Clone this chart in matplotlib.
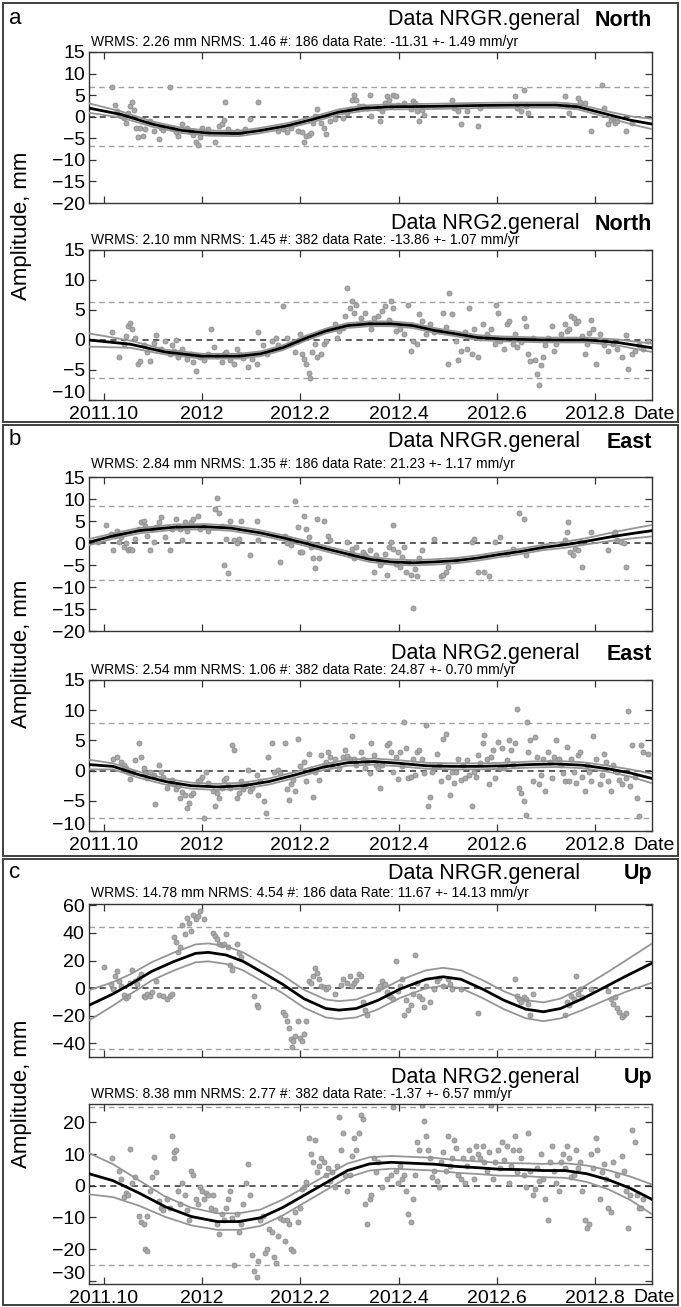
import matplotlib
matplotlib.use('Agg')
import matplotlib.pyplot as plt
import matplotlib.transforms as mtransforms
from matplotlib.patches import Rectangle

W, H = 681, 1307

# x axis
x_ticks = [2011.8, 2012.0, 2012.2, 2012.4, 2012.6, 2012.8]
x_tick_labels = ['2011.10', '2012', '2012.2', '2012.4', '2012.6', '2012.8']
x_range = (2011.770, 2012.916)

# ---- a: North ----
a1_dates = [2011.817, 2011.823, 2011.827, 2011.832, 2011.836, 2011.841, 2011.845, 2011.850, 2011.854, 2011.857,
            2011.861, 2011.865, 2011.870, 2011.874, 2011.879, 2011.885, 2011.894, 2011.903, 2011.912, 2011.916,
            2011.921, 2011.934, 2011.938, 2011.947, 2011.951, 2011.960, 2011.969, 2011.978, 2011.982, 2011.987,
            2011.991, 2011.996, 2012.000, 2012.013, 2012.027, 2012.035, 2012.040, 2012.044, 2012.047, 2012.053,
            2012.062, 2012.071, 2012.080, 2012.088, 2012.097, 2012.115, 2012.155, 2012.164, 2012.173, 2012.181,
            2012.195, 2012.203, 2012.208, 2012.212, 2012.217, 2012.221, 2012.226, 2012.230, 2012.235, 2012.243,
            2012.248, 2012.252, 2012.261, 2012.270, 2012.288, 2012.296, 2012.301, 2012.305, 2012.310, 2012.314,
            2012.319, 2012.327, 2012.336, 2012.341, 2012.345, 2012.358, 2012.363, 2012.367, 2012.372, 2012.376,
            2012.381, 2012.385, 2012.389, 2012.394, 2012.398, 2012.412, 2012.425, 2012.429, 2012.434, 2012.438,
            2012.442, 2012.447, 2012.451, 2012.508, 2012.513, 2012.522, 2012.527, 2012.540, 2012.562, 2012.566,
            2012.637, 2012.641, 2012.650, 2012.655, 2012.659, 2012.664, 2012.739, 2012.743, 2012.748, 2012.757,
            2012.765, 2012.770, 2012.779, 2012.792, 2012.814, 2012.818, 2012.827, 2012.832, 2012.836, 2012.841,
            2012.845, 2012.863, 2012.876]
a1_mm = [6.9, 2.8, 1.3, 0.5, 0.2, -0.2, -1.4, 0.9, 2.4, 3.3,
         1.6, -2.6, -4.7, -2.7, -4.4, -2.9, -1.0, -3.2, -5.1, -2.5,
         -3.0, 6.9, -2.5, -3.6, -4.4, -1.7, -2.5, -3.3, -4.2, -5.9,
         -6.6, -4.7, -2.5, -2.9, -5.9, -2.1, -1.7, -0.8, 3.3, -2.9,
         -3.6, -3.3, -3.5, -2.9, -0.6, 3.3, -3.2, -2.9, -3.5, -2.5,
         -3.3, -3.6, -5.9, -4.4, -4.2, -3.8, -1.4, 0.2, 1.7, -1.4,
         -2.5, -4.0, -1.0, -0.6, -0.2, 0.9, 1.7, 3.9, 5.0, 3.9,
         2.4, 2.4, 2.0, 5.0, 0.2, 2.0, -1.0, 1.3, 3.2, 4.7,
         3.9, 2.4, 5.0, 4.7, 2.8, 3.2, 1.7, 3.6, 3.2, 1.3,
         -1.0, 1.6, 0.5, 3.9, 2.0, 1.3, -1.7, 1.3, -2.1, 2.0,
         4.7, 2.0, 1.3, 6.2, 2.4, 0.9, 4.7, 2.8, 0.9, 2.4,
         4.3, 3.5, 3.2, -3.2, 7.3, 2.0, -1.7, -0.8, -0.2, -1.4,
         -1.0, -3.3, -1.4]
a1_fit_dates = [2011.770, 2011.836, 2011.898, 2011.960, 2012.013, 2012.075, 2012.119, 2012.173, 2012.226, 2012.279,
                2012.332, 2012.385, 2012.473, 2012.562, 2012.650, 2012.721, 2012.765, 2012.827, 2012.872, 2012.916]
a1_fit = [2.0, 0.5, -1.7, -3.2, -3.8, -3.9, -3.2, -2.1, -0.6, 1.1, 2.0, 2.3, 2.4, 2.6, 2.7, 2.7, 2.3, 0.5, -0.8, -1.7]
a1_fit_hi = [3.1, 1.2, -1.1, -2.6, -3.2, -3.3, -2.6, -1.5, 0.0, 1.7, 2.6, 2.9, 3.0, 3.2, 3.3, 3.3, 2.9, 1.2, 0.1, -0.5]
a1_fit_lo = [0.9, -0.2, -2.3, -3.8, -4.4, -4.5, -3.8, -2.7, -1.2, 0.5, 1.4, 1.7, 1.8, 2.0, 2.1, 2.1, 1.7, -0.2, -1.7, -2.9]

a2_dates = [2011.817, 2011.832, 2011.841, 2011.845, 2011.850, 2011.854, 2011.858, 2011.863, 2011.870, 2011.873,
            2011.881, 2011.889, 2011.894, 2011.903, 2011.907, 2011.916, 2011.925, 2011.934, 2011.938, 2011.943,
            2011.947, 2011.951, 2011.956, 2011.960, 2011.969, 2011.978, 2011.982, 2011.987, 2011.991, 2011.996,
            2012.004, 2012.013, 2012.019, 2012.024, 2012.031, 2012.040, 2012.044, 2012.049, 2012.058, 2012.066,
            2012.071, 2012.075, 2012.084, 2012.093, 2012.102, 2012.111, 2012.115, 2012.124, 2012.133, 2012.142,
            2012.150, 2012.155, 2012.165, 2012.173, 2012.181, 2012.190, 2012.195, 2012.199, 2012.204, 2012.208,
            2012.212, 2012.217, 2012.219, 2012.224, 2012.230, 2012.235, 2012.243, 2012.248, 2012.252, 2012.261,
            2012.270, 2012.274, 2012.279, 2012.288, 2012.292, 2012.296, 2012.301, 2012.305, 2012.310, 2012.314,
            2012.323, 2012.332, 2012.341, 2012.345, 2012.350, 2012.358, 2012.367, 2012.372, 2012.381, 2012.385,
            2012.389, 2012.394, 2012.403, 2012.412, 2012.420, 2012.425, 2012.429, 2012.438, 2012.442, 2012.447,
            2012.456, 2012.465, 2012.473, 2012.482, 2012.491, 2012.496, 2012.500, 2012.503, 2012.509, 2012.518,
            2012.522, 2012.527, 2012.535, 2012.540, 2012.544, 2012.549, 2012.553, 2012.562, 2012.566, 2012.571,
            2012.580, 2012.589, 2012.597, 2012.599, 2012.602, 2012.606, 2012.615, 2012.620, 2012.624, 2012.633,
            2012.637, 2012.642, 2012.650, 2012.655, 2012.659, 2012.664, 2012.668, 2012.673, 2012.677, 2012.681,
            2012.686, 2012.690, 2012.695, 2012.699, 2012.704, 2012.712, 2012.717, 2012.721, 2012.730, 2012.739,
            2012.743, 2012.748, 2012.752, 2012.757, 2012.761, 2012.766, 2012.774, 2012.779, 2012.783, 2012.788,
            2012.792, 2012.796, 2012.801, 2012.810, 2012.819, 2012.827, 2012.836, 2012.845, 2012.854, 2012.863,
            2012.867, 2012.876, 2012.881, 2012.889, 2012.898, 2012.907]
a2_mm = [1.4, -2.9, -0.7, 0.7, 2.4, 2.9, 1.8, 0.4, -4.0, -3.5,
         -0.9, -2.0, -3.5, -0.5, 0.9, -1.5, -0.1, -2.3, -0.9, -1.8,
         0.0, -2.9, -2.0, -1.5, -3.1, -2.3, -3.7, -5.2, -2.6, -2.9,
         -3.3, -2.3, 1.9, -1.2, -2.7, -3.7, -2.3, -2.0, -3.4, -4.0,
         -1.5, -2.3, -3.0, -4.5, -3.1, -4.0, 1.3, -0.9, -2.3, -0.1,
         0.4, -0.9, 5.7, 0.4, -0.7, -2.0, -0.1, 1.0, -2.3, -3.1,
         -4.0, -5.5, -6.4, -2.0, -0.7, -2.9, -2.3, -0.7, -0.1, 1.8,
         2.6, 0.4, 1.5, 2.0, 4.0, 8.7, 5.4, 6.5, 4.5, 5.8,
         3.7, 4.5, 2.9, 1.8, 3.7, 4.0, 4.8, 5.7, 3.4, 6.5,
         5.4, 1.5, 1.8, 1.0, 5.9, -1.8, -0.1, -0.7, 4.3, 3.2,
         1.0, 2.6, 1.3, 1.5, 4.5, 2.1, -4.0, 7.9, 4.3, -0.1,
         -3.4, -1.8, 1.3, -1.5, 5.4, -2.3, 1.8, -2.9, 0.4, 2.6,
         1.0, 1.8, -0.7, 5.9, 4.5, -0.1, -1.5, 2.6, 3.2, -0.7,
         1.0, -1.2, -0.4, 3.7, 2.4, -2.3, -3.5, 0.4, -3.4, -5.6,
         -7.5, -4.2, -2.9, -0.9, 0.4, 2.4, -1.8, -0.7, 1.0, 2.6,
         1.5, 1.8, 4.0, 3.7, 2.9, 3.2, 0.7, -2.3, -0.7, 1.2,
         3.4, 1.8, -4.0, 1.0, -0.9, -1.8, -0.7, -1.5, -2.9, 0.9,
         -4.8, -2.3, -1.8, -0.9, -1.5, -0.1]
a2_fit_dates = [2011.770, 2011.854, 2011.925, 2012.000, 2012.075, 2012.119, 2012.164, 2012.208, 2012.252, 2012.296,
                2012.341, 2012.385, 2012.429, 2012.473, 2012.518, 2012.562, 2012.606, 2012.695, 2012.783, 2012.845,
                2012.916]
a2_fit = [0.0, -0.7, -2.0, -2.7, -2.7, -2.3, -1.3, 0.2, 1.5, 2.4, 2.7, 2.7, 2.4, 1.6, 1.0, 0.4, 0.2, 0.0, 0.0, -0.4, -1.3]
a2_fit_hi = [1.1, -0.1, -1.6, -2.3, -2.3, -1.9, -0.9, 0.6, 1.9, 2.8, 3.1, 3.1, 2.8, 2.0, 1.4, 0.8, 0.6, 0.4, 0.4, 0.1, -0.6]
a2_fit_lo = [-1.1, -1.3, -2.4, -3.1, -3.1, -2.7, -1.7, -0.2, 1.1, 2.0, 2.3, 2.3, 2.0, 1.2, 0.6, 0.0, -0.2, -0.4, -0.4, -0.9, -2.0]

# ---- b: East ----
b1_dates = [2011.788, 2011.805, 2011.814, 2011.819, 2011.823, 2011.827, 2011.832, 2011.836, 2011.841, 2011.845,
            2011.850, 2011.854, 2011.858, 2011.863, 2011.872, 2011.876, 2011.881, 2011.885, 2011.889, 2011.894,
            2011.898, 2011.903, 2011.907, 2011.912, 2011.916, 2011.925, 2011.934, 2011.938, 2011.947, 2011.951,
            2011.956, 2011.960, 2011.965, 2011.969, 2011.978, 2011.982, 2011.991, 2011.996, 2012.004, 2012.013,
            2012.027, 2012.031, 2012.035, 2012.040, 2012.044, 2012.049, 2012.053, 2012.058, 2012.066, 2012.071,
            2012.075, 2012.080, 2012.097, 2012.111, 2012.115, 2012.159, 2012.168, 2012.173, 2012.177, 2012.181,
            2012.190, 2012.195, 2012.199, 2012.204, 2012.208, 2012.212, 2012.217, 2012.221, 2012.226, 2012.230,
            2012.235, 2012.239, 2012.248, 2012.257, 2012.261, 2012.296, 2012.301, 2012.305, 2012.310, 2012.314,
            2012.327, 2012.332, 2012.336, 2012.341, 2012.350, 2012.354, 2012.358, 2012.363, 2012.367, 2012.372,
            2012.376, 2012.381, 2012.385, 2012.388, 2012.389, 2012.394, 2012.398, 2012.403, 2012.407, 2012.412,
            2012.416, 2012.420, 2012.425, 2012.429, 2012.434, 2012.438, 2012.442, 2012.447, 2012.473, 2012.487,
            2012.491, 2012.496, 2012.500, 2012.518, 2012.549, 2012.553, 2012.562, 2012.575, 2012.584, 2012.597,
            2012.606, 2012.620, 2012.633, 2012.646, 2012.655, 2012.659, 2012.739, 2012.743, 2012.746, 2012.750,
            2012.755, 2012.759, 2012.766, 2012.770, 2012.774, 2012.792, 2012.827, 2012.838, 2012.841, 2012.845,
            2012.852, 2012.858, 2012.863]
b1_mm = [0.2, 4.0, 2.1, -1.6, 1.7, 2.8, 0.2, 1.3, -0.9, -0.1,
         -1.6, -1.3, -1.6, 1.0, 3.2, 4.7, 5.1, 3.9, 1.7, -1.6,
         3.2, 0.2, 3.6, 4.7, 5.8, 1.3, -1.6, 3.2, 5.4, 3.9,
         3.2, 0.6, 4.7, 2.8, 4.7, 5.4, 6.2, 3.2, 3.9, 2.8,
         7.7, 10.3, 6.9, 3.9, -5.0, 1.0, -6.9, 5.1, 0.6, -0.1,
         1.0, 5.1, -2.8, 5.1, 0.6, -4.3, 1.7, -0.1, 1.0, -0.5,
         9.6, 3.6, -2.0, -2.0, 6.2, 3.2, 1.3, -0.9, -3.5, -5.7,
         5.4, -3.5, 5.1, 1.7, 0.6, 0.2, -2.8, -1.3, -3.5, -0.9,
         -2.0, -2.8, -3.1, -1.6, -6.5, -2.8, -3.9, -5.0, -4.3, -2.4,
         -7.2, -0.9, 0.2, 4.0, -1.3, -4.7, -2.0, -5.4, -3.1, -0.9,
         -6.5, -4.3, -7.2, -14.7, -5.8, -7.6, -3.5, -1.6, 1.0, -7.6,
         -7.2, -6.5, -5.4, -3.9, 0.2, 1.0, -6.5, -6.5, -7.6, 0.2,
         1.3, -2.4, -1.3, 6.9, 5.4, -2.8, 0.6, 2.5, 4.7, -2.0,
         -2.8, -1.3, -1.6, 0.2, -5.4, 2.5, -1.6, 2.1, 2.5, 0.6,
         0.2, -0.1, -5.4]
b1_fit_dates = [2011.770, 2011.819, 2011.872, 2011.943, 2012.004, 2012.058, 2012.119, 2012.164, 2012.208, 2012.252,
                2012.296, 2012.341, 2012.385, 2012.429, 2012.473, 2012.518, 2012.562, 2012.606, 2012.650, 2012.695,
                2012.739, 2012.783, 2012.827, 2012.872, 2012.916]
b1_fit = [0.2, 1.6, 2.8, 3.6, 3.7, 3.4, 2.3, 1.2, 0.0, -1.3, -2.5, -3.7, -4.3, -4.5, -4.3, -4.0, -3.4, -2.6, -1.9, -1.0,
          -0.4, 0.4, 1.3, 2.1, 2.8]
b1_fit_hi = [0.9, 2.2, 3.4, 4.2, 4.3, 4.0, 2.9, 1.8, 0.6, -0.7, -1.9, -3.1, -3.7, -3.9, -3.7, -3.4, -2.8, -2.0, -1.3,
             -0.4, 0.3, 1.1, 2.2, 3.2, 4.1]
b1_fit_lo = [-0.5, 1.0, 2.2, 3.0, 3.1, 2.8, 1.7, 0.6, -0.6, -1.9, -3.1, -4.3, -4.9, -5.1, -4.9, -4.6, -4.0, -3.2, -2.5,
             -1.6, -1.1, -0.3, 0.4, 1.0, 1.5]

b2_dates = [2011.819, 2011.827, 2011.836, 2011.841, 2011.845, 2011.850, 2011.854, 2011.858, 2011.863, 2011.872,
            2011.876, 2011.881, 2011.885, 2011.889, 2011.894, 2011.903, 2011.905, 2011.912, 2011.916, 2011.920,
            2011.929, 2011.934, 2011.938, 2011.943, 2011.947, 2011.951, 2011.956, 2011.960, 2011.965, 2011.969,
            2011.973, 2011.978, 2011.982, 2011.991, 2011.996, 2012.000, 2012.004, 2012.009, 2012.013, 2012.022,
            2012.027, 2012.031, 2012.035, 2012.040, 2012.044, 2012.049, 2012.053, 2012.058, 2012.062, 2012.065,
            2012.071, 2012.075, 2012.080, 2012.084, 2012.089, 2012.093, 2012.097, 2012.102, 2012.111, 2012.115,
            2012.119, 2012.127, 2012.130, 2012.135, 2012.142, 2012.146, 2012.155, 2012.159, 2012.168, 2012.173,
            2012.177, 2012.181, 2012.186, 2012.190, 2012.195, 2012.199, 2012.208, 2012.212, 2012.217, 2012.221,
            2012.226, 2012.230, 2012.239, 2012.243, 2012.248, 2012.252, 2012.257, 2012.261, 2012.265, 2012.270,
            2012.279, 2012.288, 2012.292, 2012.296, 2012.301, 2012.305, 2012.310, 2012.314, 2012.323, 2012.327,
            2012.332, 2012.336, 2012.341, 2012.345, 2012.350, 2012.354, 2012.358, 2012.363, 2012.367, 2012.376,
            2012.381, 2012.385, 2012.389, 2012.394, 2012.398, 2012.403, 2012.407, 2012.412, 2012.416, 2012.420,
            2012.425, 2012.429, 2012.434, 2012.438, 2012.442, 2012.447, 2012.451, 2012.456, 2012.460, 2012.465,
            2012.469, 2012.473, 2012.478, 2012.482, 2012.487, 2012.491, 2012.496, 2012.500, 2012.504, 2012.509,
            2012.513, 2012.518, 2012.522, 2012.527, 2012.531, 2012.535, 2012.540, 2012.544, 2012.549, 2012.553,
            2012.558, 2012.562, 2012.566, 2012.571, 2012.575, 2012.580, 2012.584, 2012.589, 2012.593, 2012.597,
            2012.602, 2012.606, 2012.611, 2012.615, 2012.620, 2012.624, 2012.628, 2012.633, 2012.637, 2012.642,
            2012.646, 2012.650, 2012.655, 2012.659, 2012.661, 2012.664, 2012.668, 2012.673, 2012.677, 2012.681,
            2012.686, 2012.690, 2012.695, 2012.699, 2012.704, 2012.708, 2012.712, 2012.717, 2012.721, 2012.726,
            2012.730, 2012.734, 2012.739, 2012.743, 2012.748, 2012.752, 2012.757, 2012.761, 2012.766, 2012.770,
            2012.774, 2012.779, 2012.783, 2012.788, 2012.792, 2012.796, 2012.801, 2012.810, 2012.814, 2012.819,
            2012.823, 2012.827, 2012.832, 2012.836, 2012.845, 2012.849, 2012.854, 2012.863, 2012.867, 2012.872,
            2012.876, 2012.881, 2012.885, 2012.889, 2012.894, 2012.898, 2012.907]
b2_mm = [2.0, 2.3, 1.5, 0.9, 0.4, -0.2, -1.4, -0.4, 1.7, 4.5,
         2.3, 0.4, -0.4, -1.3, -0.2, -0.7, -5.6, 0.9, -0.2, -1.0,
         -2.9, -2.1, -1.5, -2.2, -3.1, -2.6, -4.5, -3.5, -4.0, -6.2,
         -5.4, -4.0, -3.7, -1.8, -1.5, -1.0, -7.8, -0.2, -2.1, -3.4,
         -5.9, -3.7, -4.5, -2.9, -1.5, -1.3, -2.4, -2.9, 4.3, 3.4,
         -4.5, -3.7, -1.8, -3.1, -2.2, 0.1, -3.4, -2.9, -0.7, -4.0,
         -1.8, -5.0, -7.0, 2.3, 4.5, -0.2, 0.1, -0.4, 4.5, -3.1,
         -4.8, -2.3, -1.5, -3.4, 5.2, 0.7, 1.5, -1.8, 2.8, 0.1,
         -4.3, -0.2, -1.5, 2.6, 0.9, 1.5, 3.1, 2.3, 0.9, 2.0,
         0.4, 2.3, 3.4, 2.4, 2.0, 5.8, 2.0, 0.9, 3.1, 2.0,
         0.4, 1.5, -0.4, 4.5, 2.6, 0.9, 0.4, -2.9, 0.9, 4.2,
         4.5, 3.1, -0.2, 2.3, -1.4, 3.1, 0.7, 8.0, 3.7, -1.3,
         -1.0, 2.0, -0.7, 3.1, 3.4, 2.0, -0.4, 7.5, -5.9, -4.3,
         -0.2, 0.4, 2.8, 0.9, -1.8, 5.3, 6.1, -1.0, -4.0, -0.2,
         -2.1, -0.2, 2.0, -1.5, 0.9, -1.3, 1.7, -0.7, -5.9, -0.2,
         -1.0, 2.6, 1.2, 4.5, 5.9, 2.0, -2.3, 2.3, 3.4, -1.3,
         4.8, 0.4, 3.7, 0.4, 1.7, 5.0, 3.4, 0.9, 4.5, 10.2,
         -2.9, -3.7, -5.1, -7.3, 8.0, 3.1, 5.0, -1.8, 5.6, 2.3,
         -2.3, -0.7, 2.0, -3.4, 3.1, 1.5, -1.3, 2.3, 5.0, 2.0,
         0.9, -0.4, -1.8, 3.9, -1.8, 2.0, -0.2, -2.1, 2.6, 3.1,
         -1.0, -3.4, 0.9, -0.2, -1.8, 5.8, 2.0, -2.3, -0.7, 2.8,
         1.5, -1.8, -3.4, 0.9, -0.2, -1.5, -2.3, -1.3, 9.9, -2.6,
         4.2, -1.0, -4.5, -7.5, 4.2, 3.1, 2.8]
b2_fit_dates = [2011.770, 2011.819, 2011.872, 2011.925, 2011.978, 2012.031, 2012.084, 2012.137, 2012.190, 2012.243,
                2012.296, 2012.350, 2012.403, 2012.456, 2012.509, 2012.562, 2012.615, 2012.668, 2012.721, 2012.774,
                2012.827, 2012.872, 2012.916]
b2_fit = [1.0, 0.7, -0.7, -1.8, -2.5, -2.7, -2.5, -1.8, -0.7, 0.5, 1.3, 1.5, 1.2, 0.8, 0.7, 0.7, 0.8, 1.0, 1.1, 0.9,
          0.3, -0.4, -1.3]
b2_fit_hi = [1.8, 1.2, -0.2, -1.3, -2.0, -2.2, -2.0, -1.3, -0.2, 1.0, 1.8, 2.0, 1.7, 1.3, 1.2, 1.2, 1.3, 1.5, 1.6, 1.4,
             0.8, 0.2, -0.5]
b2_fit_lo = [0.2, 0.2, -1.2, -2.3, -3.0, -3.2, -3.0, -2.3, -1.2, 0.0, 0.8, 1.0, 0.7, 0.3, 0.2, 0.2, 0.3, 0.5, 0.6, 0.4,
             -0.2, -1.0, -2.1]

# ---- c: Up ----
c1_dates = [2011.801, 2011.814, 2011.819, 2011.823, 2011.826, 2011.832, 2011.836, 2011.841, 2011.845, 2011.850,
            2011.854, 2011.858, 2011.863, 2011.867, 2011.872, 2011.876, 2011.881, 2011.885, 2011.889, 2011.894,
            2011.898, 2011.907, 2011.912, 2011.920, 2011.929, 2011.934, 2011.938, 2011.943, 2011.947, 2011.951,
            2011.956, 2011.960, 2011.965, 2011.969, 2011.973, 2011.978, 2011.982, 2011.987, 2011.991, 2011.996,
            2012.004, 2012.022, 2012.027, 2012.031, 2012.035, 2012.040, 2012.044, 2012.049, 2012.053, 2012.058,
            2012.062, 2012.071, 2012.075, 2012.080, 2012.106, 2012.111, 2012.115, 2012.164, 2012.168, 2012.173,
            2012.177, 2012.181, 2012.183, 2012.186, 2012.190, 2012.195, 2012.199, 2012.204, 2012.208, 2012.212,
            2012.217, 2012.221, 2012.226, 2012.230, 2012.235, 2012.239, 2012.243, 2012.248, 2012.252, 2012.257,
            2012.270, 2012.283, 2012.288, 2012.296, 2012.301, 2012.305, 2012.310, 2012.314, 2012.319, 2012.323,
            2012.327, 2012.332, 2012.336, 2012.358, 2012.363, 2012.367, 2012.372, 2012.376, 2012.381, 2012.385,
            2012.389, 2012.394, 2012.398, 2012.403, 2012.407, 2012.412, 2012.416, 2012.420, 2012.425, 2012.429,
            2012.434, 2012.438, 2012.442, 2012.447, 2012.451, 2012.456, 2012.465, 2012.473, 2012.478, 2012.482,
            2012.491, 2012.500, 2012.504, 2012.509, 2012.527, 2012.562, 2012.637, 2012.642, 2012.646, 2012.650,
            2012.655, 2012.659, 2012.664, 2012.668, 2012.673, 2012.739, 2012.743, 2012.748, 2012.752, 2012.757,
            2012.761, 2012.766, 2012.770, 2012.774, 2012.792, 2012.827, 2012.832, 2012.836, 2012.841, 2012.845,
            2012.849, 2012.854, 2012.858, 2012.863]
c1_mm = [15.3, 2.8, -0.7, 8.7, 12.2, 5.2, 1.6, -4.9, -7.3, -5.4,
         4.0, 13.4, 5.2, 2.8, 7.5, 9.9, -5.4, -6.6, -4.2, -5.4,
         -3.1, 5.2, -4.9, -5.4, -7.8, -5.4, -4.2, 37.0, 33.4, 26.4,
         29.9, 45.9, 39.3, 51.1, 47.5, 41.6, 52.9, 49.9, 52.2, 55.8,
         49.9, 40.2, 38.1, 35.8, 32.2, 31.1, 32.2, 39.3, 29.9, 16.9,
         13.4, 32.2, 25.2, 22.8, -5.9, -12.5, -13.6, -17.2, -19.5, -24.2,
         -28.9, -37.2, -43.1, -38.4, -34.8, -24.2, -36.0, -38.4, -33.6, -24.2,
         5.2, 4.0, 8.7, 14.6, 11.1, 6.4, 1.6, 0.5, -0.7, 0.5,
         -4.2, 2.1, 6.4, 4.0, 8.7, 1.6, 4.0, 5.9, 9.9, 8.7,
         -10.1, -15.9, -19.5, -0.7, 1.6, 5.2, 2.8, -3.1, -5.4, -6.6,
         -7.8, 19.3, -1.9, 1.6, 6.4, -19.5, -8.9, -15.9, -12.5, -4.2,
         24.0, 4.0, -5.4, -7.8, -13.6, 1.6, -10.1, -0.7, 5.2, 7.5,
         1.6, 6.4, 2.8, -0.7, -0.7, -18.4, 6.4, -5.9, -7.8, -10.1,
         -6.6, -7.8, -11.3, -19.5, -4.2, -19.5, -10.1, -12.5, -5.4, -7.8,
         8.7, -4.2, -0.7, -6.6, -0.7, -1.9, -7.8, -11.3, -6.6, -14.8,
         -17.2, -20.7, -19.5, -18.4]
c1_fit_dates = [2011.770, 2011.819, 2011.854, 2011.898, 2011.943, 2011.987, 2012.013, 2012.049, 2012.084, 2012.119,
                2012.164, 2012.208, 2012.252, 2012.279, 2012.314, 2012.358, 2012.403, 2012.456, 2012.491, 2012.527,
                2012.571, 2012.615, 2012.659, 2012.695, 2012.730, 2012.774, 2012.819, 2012.863, 2012.916]
c1_fit = [-12.5, -4.2, 2.8, 12.2, 19.3, 25.2, 25.9, 24.0, 19.3, 12.2, 2.8, -7.8, -14.8, -16.0, -14.8, -8.9, -0.7, 6.4,
          8.2, 6.4, -0.7, -8.9, -15.3, -17.2, -14.8, -7.8, 0.5, 8.7, 18.1]
c1_fit_hi = [-1.5, 4.3, 10.0, 18.8, 25.8, 31.7, 32.4, 30.5, 25.8, 18.7, 9.3, -1.3, -8.3, -9.5, -8.3, -2.4, 5.8, 12.9,
             14.7, 12.9, 5.8, -2.4, -8.7, -10.4, -7.6, 0.4, 10.1, 20.1, 32.3]
c1_fit_lo = [-23.5, -12.7, -4.4, 5.6, 12.8, 18.7, 19.4, 17.5, 12.8, 5.7, -3.7, -14.3, -21.3, -22.5, -21.3, -15.4, -7.2,
             -0.1, 1.7, -0.1, -7.2, -15.4, -21.9, -24.0, -22.0, -16.0, -9.1, -2.7, 3.9]

c2_dates = [2011.817, 2011.832, 2011.836, 2011.841, 2011.845, 2011.850, 2011.854, 2011.858, 2011.863, 2011.872,
            2011.876, 2011.881, 2011.885, 2011.888, 2011.889, 2011.894, 2011.898, 2011.903, 2011.907, 2011.912,
            2011.916, 2011.920, 2011.929, 2011.934, 2011.938, 2011.943, 2011.944, 2011.947, 2011.951, 2011.956,
            2011.960, 2011.965, 2011.969, 2011.973, 2011.978, 2011.982, 2011.987, 2011.991, 2011.996, 2012.000,
            2012.004, 2012.009, 2012.013, 2012.018, 2012.022, 2012.027, 2012.031, 2012.035, 2012.040, 2012.044,
            2012.049, 2012.053, 2012.058, 2012.062, 2012.066, 2012.071, 2012.075, 2012.080, 2012.084, 2012.089,
            2012.093, 2012.097, 2012.102, 2012.106, 2012.111, 2012.115, 2012.119, 2012.124, 2012.128, 2012.133,
            2012.137, 2012.142, 2012.146, 2012.150, 2012.155, 2012.159, 2012.164, 2012.168, 2012.173, 2012.177,
            2012.181, 2012.186, 2012.190, 2012.195, 2012.199, 2012.204, 2012.208, 2012.212, 2012.217, 2012.221,
            2012.226, 2012.230, 2012.235, 2012.239, 2012.243, 2012.248, 2012.252, 2012.257, 2012.261, 2012.265,
            2012.270, 2012.274, 2012.279, 2012.283, 2012.288, 2012.292, 2012.296, 2012.301, 2012.305, 2012.310,
            2012.314, 2012.319, 2012.323, 2012.327, 2012.332, 2012.336, 2012.341, 2012.345, 2012.350, 2012.354,
            2012.358, 2012.367, 2012.376, 2012.385, 2012.389, 2012.394, 2012.398, 2012.403, 2012.407, 2012.412,
            2012.416, 2012.420, 2012.425, 2012.429, 2012.434, 2012.438, 2012.442, 2012.447, 2012.451, 2012.456,
            2012.460, 2012.465, 2012.469, 2012.473, 2012.478, 2012.482, 2012.487, 2012.491, 2012.496, 2012.500,
            2012.504, 2012.509, 2012.513, 2012.518, 2012.522, 2012.527, 2012.531, 2012.535, 2012.540, 2012.544,
            2012.549, 2012.553, 2012.558, 2012.562, 2012.566, 2012.571, 2012.575, 2012.580, 2012.584, 2012.589,
            2012.593, 2012.597, 2012.602, 2012.606, 2012.611, 2012.615, 2012.620, 2012.624, 2012.628, 2012.633,
            2012.637, 2012.642, 2012.646, 2012.650, 2012.655, 2012.659, 2012.664, 2012.668, 2012.673, 2012.677,
            2012.681, 2012.686, 2012.690, 2012.695, 2012.699, 2012.704, 2012.708, 2012.712, 2012.717, 2012.721,
            2012.726, 2012.730, 2012.734, 2012.739, 2012.743, 2012.748, 2012.752, 2012.757, 2012.761, 2012.766,
            2012.770, 2012.774, 2012.779, 2012.783, 2012.788, 2012.792, 2012.796, 2012.801, 2012.805, 2012.810,
            2012.814, 2012.819, 2012.823, 2012.827, 2012.832, 2012.836, 2012.845, 2012.854, 2012.858, 2012.863,
            2012.867, 2012.872, 2012.876, 2012.881, 2012.885, 2012.889, 2012.894, 2012.898]
c2_mm = [8.7, 4.8, 2.2, -3.6, -2.3, -3.0, 11.6, 0.9, 2.9, -9.5,
         -11.4, -12.1, -19.9, -20.5, -9.5, -1.7, 2.9, 9.0, 4.2, -4.9,
         -6.9, -7.5, -4.3, -6.9, 15.8, 10.6, 8.9, 11.3, -1.7, -5.6,
         0.9, -3.0, -7.5, -10.8, 4.8, 3.5, -4.3, -5.6, -0.4, -1.7,
         -4.3, -2.3, -3.0, -6.9, -3.0, -7.5, -12.1, -15.3, -8.8, -10.8,
         -6.9, -4.3, -1.7, -10.1, -25.1, -8.8, -14.5, -12.0, -5.6, 0.9,
         6.8, -3.0, -21.8, -27.0, -28.9, -23.8, -10.8, -9.5, -21.2, -20.0,
         -13.5, -14.7, -22.5, -24.4, -16.0, -10.1, -10.8, -17.3, -10.8, -12.1,
         -19.9, -20.5, -8.2, -11.4, -6.9, -1.0, -0.4, 1.2, 15.2, 10.0,
         7.4, 14.5, 4.2, 6.1, 8.7, 7.4, 3.5, 5.5, 1.6, 4.2,
         -0.4, 6.1, 21.7, 11.3, 16.5, 3.5, -1.7, 3.5, 9.4, 15.2,
         11.3, 16.5, 22.3, 21.0, -5.6, -12.1, -4.3, -3.0, 8.7, 4.2,
         7.4, -0.4, 2.2, 3.5, 24.9, 4.8, 0.9, 6.1, 2.2, 3.5,
         -1.7, -8.8, -11.4, -4.3, 3.5, 13.9, 11.3, 25.6, 20.4, 15.8,
         11.3, 8.7, 2.9, 4.8, 1.6, -0.4, 7.4, 10.6, 4.8, 15.8,
         6.1, 8.7, 14.5, 11.9, 3.5, 2.2, 8.7, 0.9, 6.1, 11.3,
         8.7, 2.2, 12.6, 10.0, 8.7, 12.6, 7.4, 4.8, 10.6, 25.6,
         2.2, 7.4, 11.3, 5.5, 13.9, 8.1, 12.6, 0.9, 6.1, 11.3,
         15.8, 4.2, 11.3, 8.7, 3.5, -0.4, 16.5, 4.8, -3.0, -1.0,
         5.5, 1.6, 10.0, 2.2, -4.3, -10.8, 7.4, 12.6, 4.8, 0.9,
         -1.7, 7.4, 10.0, 5.5, 12.6, 8.7, 2.9, 3.5, 11.3, 5.5,
         7.4, -1.7, -10.8, -13.4, -12.1, 10.0, 5.5, 15.2, 11.3, -4.3,
         4.2, 6.8, 2.2, -6.9, -8.2, 7.4, 3.5, 9.4, 4.8, -1.7,
         -13.4, -3.0, 17.7, 13.9, -3.0, -6.9, -6.9, -4.3]
c2_fit_dates = [2011.770, 2011.819, 2011.872, 2011.925, 2011.978, 2012.031, 2012.075, 2012.119, 2012.164, 2012.208,
                2012.252, 2012.296, 2012.341, 2012.385, 2012.429, 2012.473, 2012.518, 2012.562, 2012.606, 2012.650,
                2012.695, 2012.739, 2012.783, 2012.827, 2012.872, 2012.916]
c2_fit = [3.8, 1.6, -2.3, -6.6, -9.7, -11.3, -11.3, -10.1, -6.9, -3.0, 0.9, 4.8, 6.9, 7.4, 7.1, 6.8, 6.1, 5.7, 5.2, 5.1,
          4.8, 4.8, 3.8, 1.9, -0.8, -4.3]
c2_fit_hi = [10.3, 6.8, 1.7, -3.4, -6.9, -8.7, -8.7, -7.5, -4.4, -0.6, 3.2, 7.0, 9.0, 9.4, 9.1, 8.8, 8.1, 7.7, 7.2, 7.1,
             6.9, 7.1, 6.4, 4.9, 2.9, 0.4]
c2_fit_lo = [-2.7, -3.6, -6.3, -9.8, -12.5, -13.9, -13.9, -12.7, -9.4, -5.4, -1.4, 2.6, 4.8, 5.4, 5.1, 4.8, 4.1, 3.7,
             3.2, 3.1, 2.7, 2.5, 1.2, -1.1, -4.5, -9.0]

# panel texts and limits
sections = ['a', 'b', 'c']
components = ['North', 'East', 'Up']
stats = [
    'WRMS: 2.26 mm NRMS: 1.46 #: 186 data Rate: -11.31 +- 1.49 mm/yr',
    'WRMS: 2.10 mm NRMS: 1.45 #: 382 data Rate: -13.86 +- 1.07 mm/yr',
    'WRMS: 2.84 mm NRMS: 1.35 #: 186 data Rate: 21.23 +- 1.17 mm/yr',
    'WRMS: 2.54 mm NRMS: 1.06 #: 382 data Rate: 24.87 +- 0.70 mm/yr',
    'WRMS: 14.78 mm NRMS: 4.54 #: 186 data Rate: 11.67 +- 14.13 mm/yr',
    'WRMS: 8.38 mm NRMS: 2.77 #: 382 data Rate: -1.37 +- 6.57 mm/yr',
]
sigmas = [6.8, 6.4, 8.5, 7.8, 44.3, 25.0]
ylims = [(-20, 15), (-10, 15), (-20, 15), (-10, 15), (-50, 61), (-31, 25.8)]
yticks = [[-20, -15, -10, -5, 0, 5, 10, 15], [-10, -5, 0, 5, 10, 15],
          [-20, -15, -10, -5, 0, 5, 10, 15], [-10, -5, 0, 5, 10, 15],
          [-40, -20, 0, 20, 40, 60], [-30, -20, -10, 0, 10, 20]]

plt.rcParams['font.family'] = ['Liberation Sans', 'DejaVu Sans']

fig = plt.figure(figsize=(W / 100, H / 100), dpi=100)


def fy(y):
    return 1 - y / H


def px_axes(left, top, right, bottom):
    return fig.add_axes([left / W, 1 - bottom / H, (right - left) / W, (bottom - top) / H])


def draw_panel(ax, dates, mm, fdates, fit, fhi, flo, sigma, ylim, ticks, show_x):
    ax.axhline(sigma, color='#a0a0a0', ls='--', lw=1.0, dashes=(4, 3), zorder=1)
    ax.axhline(-sigma, color='#a0a0a0', ls='--', lw=1.0, dashes=(4, 3), zorder=1)
    ax.axhline(0, color='#303030', ls='--', lw=1.1, dashes=(4, 3), zorder=1)
    ax.scatter(dates, mm, s=13, c='#aaaaaa', edgecolors='#8c8c8c', linewidths=0.6, zorder=2)
    ax.plot(fdates, fhi, color='#959595', lw=1.3, zorder=4)
    ax.plot(fdates, flo, color='#959595', lw=1.3, zorder=4)
    ax.plot(fdates, fit, color='black', lw=2.0, zorder=5)
    ax.set_xlim(*x_range)
    ax.set_ylim(*ylim)
    ax.set_yticks(ticks)
    ax.set_xticks(x_ticks)
    ax.set_xticklabels(x_tick_labels if show_x else [])
    ax.tick_params(direction='in', top=True, right=True, length=5, width=0.9, color='#333333',
                   labelsize=14, pad=3)
    ax.tick_params(axis='x', pad=4)
    for s in ax.spines.values():
        s.set_color('#333333')
        s.set_linewidth(1.0)
    if show_x:
        # lift the lowest y label a little so it clears the date labels
        low = ax.get_yticklabels()[0]
        low.set_transform(low.get_transform() +
                          mtransforms.ScaledTranslation(0, 8 / 100, fig.dpi_scale_trans))


# pixel layout: section frames, panel rects (left, top, right, bottom), text rows
frames = [(3, 3, 678, 422), (3, 425, 678, 856), (3, 859, 678, 1305)]
panel_rects = [(89, 52, 652, 203), (89, 250, 652, 400),
               (89, 477, 652, 631), (89, 680, 652, 831),
               (89, 904, 652, 1057), (89, 1104, 652, 1284)]
title_rows = [20, 224, 442, 654, 874, 1078]
stat_rows = [42, 240, 464, 670, 893, 1094]
letter_rows = [18, 440, 873]

panel_data = [
    (a1_dates, a1_mm, a1_fit_dates, a1_fit, a1_fit_hi, a1_fit_lo),
    (a2_dates, a2_mm, a2_fit_dates, a2_fit, a2_fit_hi, a2_fit_lo),
    (b1_dates, b1_mm, b1_fit_dates, b1_fit, b1_fit_hi, b1_fit_lo),
    (b2_dates, b2_mm, b2_fit_dates, b2_fit, b2_fit_hi, b2_fit_lo),
    (c1_dates, c1_mm, c1_fit_dates, c1_fit, c1_fit_hi, c1_fit_lo),
    (c2_dates, c2_mm, c2_fit_dates, c2_fit, c2_fit_hi, c2_fit_lo),
]

for k, (x0, y0, x1, y1) in enumerate(frames):
    fig.patches.append(Rectangle((x0 / W, fy(y1)), (x1 - x0) / W, (y1 - y0) / H,
                                 transform=fig.transFigure, fill=False, edgecolor='#404040', lw=1.4))
    fig.text(9 / W, fy(letter_rows[k]), sections[k], fontsize=16, va='center', ha='left')
    r_top = panel_rects[2 * k][1]
    r_bot = panel_rects[2 * k + 1][3]
    fig.text(22 / W, fy((r_top + r_bot) / 2), 'Amplitude, mm', rotation=90, fontsize=16,
             va='center', ha='center')

for i, rect in enumerate(panel_rects):
    ax = px_axes(*rect)
    dates, mm, fdates, fit, fhi, flo = panel_data[i]
    lower = (i % 2 == 1)
    draw_panel(ax, dates, mm, fdates, fit, fhi, flo, sigmas[i], ylims[i], yticks[i], lower)
    site = 'NRG2' if lower else 'NRGR'
    fig.text(580 / W, fy(title_rows[i]), 'Data %s.general' % site, fontsize=15.5, ha='right', va='center')
    fig.text(652 / W, fy(title_rows[i]), components[i // 2], fontsize=15.5, fontweight='bold',
             ha='right', va='center')
    fig.text(91 / W, fy(stat_rows[i]), stats[i], fontsize=10, ha='left', va='center')
    if lower:
        fig.text(633 / W, fy(rect[3] + 14), 'Date', fontsize=14, ha='left', va='center')

fig.savefig('out.png', dpi=100)
